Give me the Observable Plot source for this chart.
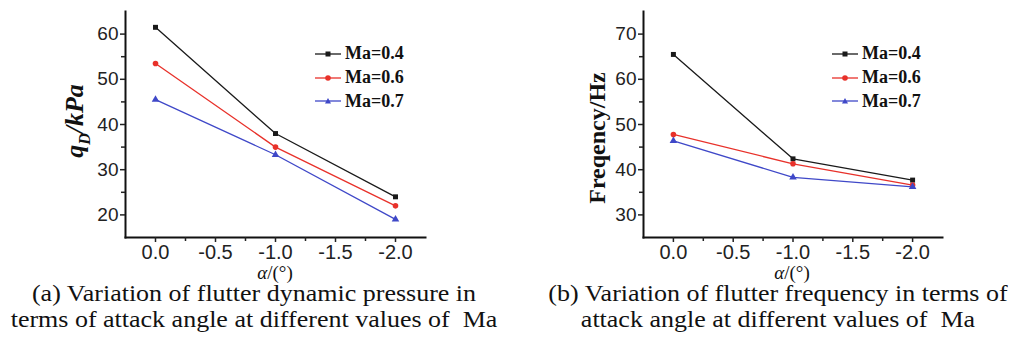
<!DOCTYPE html>
<html><head><meta charset="utf-8">
<script src="https://cdn.jsdelivr.net/npm/d3@7"></script>
<script src="https://cdn.jsdelivr.net/npm/@observablehq/plot@0.6"></script>
<style>
body{margin:0;background:#fff;}
#wrap{position:relative;width:1020px;height:349px;overflow:hidden;background:#fff;}
.panel{position:absolute;top:0;width:510px;height:270px;}
.ylab{position:absolute;font-family:"Liberation Serif","Times New Roman",serif;font-weight:bold;color:#111;transform:translate(-50%,-50%) rotate(-90deg);white-space:nowrap;}
.xlab{position:absolute;font-family:"Liberation Serif","Times New Roman",serif;font-size:19px;line-height:14px;color:#111;transform:translate(-50%,-50%);white-space:nowrap;}
.cap{position:absolute;font-family:"Liberation Serif","Times New Roman",serif;font-size:23px;line-height:26px;color:#111;text-align:center;transform:translateX(-50%) scaleX(1.13);white-space:nowrap;}
.legend{position:absolute;font-family:"Liberation Serif","Times New Roman",serif;font-weight:bold;font-size:18px;color:#111;}
.legend .row{display:flex;align-items:center;height:23.7px;}
.legend svg{margin-right:4px;}
</style>
</head><body>
<div id="wrap"></div>
<script>
const angles = [0, -1, -2];
const series = ["Ma=0.4", "Ma=0.6", "Ma=0.7"];
const colors = ["#1a1a1a", "#e8312a", "#3f48c8"];
const symbols = ["square", "circle", "triangle"];
const qD04 = [61.5, 38.0, 24.0];
const qD06 = [53.5, 35.0, 22.0];
const qD07 = [45.5, 33.3, 19.0];
const f04 = [65.5, 42.4, 37.7];
const f06 = [47.8, 41.3, 36.6];
const f07 = [46.4, 38.3, 36.2];
const xDomain = [0.25, -2.25];
const xTicks = [0, -0.5, -1, -1.5, -2];
const xMinor = [-0.25, -0.75, -1.25, -1.75];
const qDomain = [15, 65];
const qTicks = [20, 30, 40, 50, 60];
const qMinor = [25, 35, 45, 55];
const fDomain = [25, 75];
const fTicks = [30, 40, 50, 60, 70];
const fMinor = [35, 45, 55, 65];

function rows(vals) {
  const out = [];
  vals.forEach((arr, si) => arr.forEach((v, i) => out.push({x: angles[i], y: v, s: series[si]})));
  return out;
}

function makePlot(data, yDomain, yTicks, yMinor, marginLeft, marginRight) {
  return Plot.plot({
    width: 510, height: 270,
    marginLeft, marginRight, marginTop: 11, marginBottom: 33,
    style: {fontFamily: "'Liberation Sans', Arial, sans-serif", fontSize: "19px", color: "#222", background: "transparent"},
    x: {domain: xDomain},
    y: {domain: yDomain},
    color: {domain: series, range: colors},
    symbol: {domain: series, range: symbols},
    marks: [
      Plot.frame({anchor: "left", stroke: "#111", strokeWidth: 2}),
      Plot.frame({anchor: "bottom", stroke: "#111", strokeWidth: 2}),
      Plot.axisX({ticks: xTicks, tickSize: 5, tickPadding: 2, tickFormat: d => d.toFixed(1), label: null, fontSize: 20, strokeWidth: 1.5}),
      Plot.axisX({ticks: xMinor, tickSize: 4, text: null, label: null, strokeWidth: 1.5}),
      Plot.axisY({ticks: yTicks, tickSize: 5, tickPadding: 2, label: null, strokeWidth: 1.5}),
      Plot.axisY({ticks: yMinor, tickSize: 4, text: null, label: null, strokeWidth: 1.5}),
      Plot.line(data, {x: "x", y: "y", z: "s", stroke: "s", strokeWidth: 1.3}),
      Plot.dot(data, {x: "x", y: "y", symbol: "s", fill: "s", r: 2.8})
    ]
  });
}

function legend(left, top) {
  const d = document.createElement("div");
  d.className = "legend";
  d.style.left = left + "px";
  d.style.top = top + "px";
  series.forEach((s, i) => {
    const shape = i === 0 ? '<rect x="10.5" y="4.5" width="5" height="5" fill="' + colors[i] + '"/>'
      : i === 1 ? '<circle cx="13" cy="7" r="2.8" fill="' + colors[i] + '"/>'
      : '<path d="M13,4 L16,9.5 L10,9.5 Z" fill="' + colors[i] + '"/>';
    d.innerHTML += '<div class="row"><svg width="26" height="14"><line x1="0" x2="26" y1="7" y2="7" stroke="' + colors[i] + '" stroke-width="1.3"/>' + shape + '</svg><span>' + s + '</span></div>';
  });
  return d;
}

const wrap = document.getElementById("wrap");
const left = document.createElement("div");
left.className = "panel"; left.style.left = "0px";
left.appendChild(makePlot(rows([qD04, qD06, qD07]), qDomain, qTicks, qMinor, 125, 85));
wrap.appendChild(left);
const right = document.createElement("div");
right.className = "panel"; right.style.left = "510px";
right.appendChild(makePlot(rows([f04, f06, f07]), fDomain, fTicks, fMinor, 133, 78));
wrap.appendChild(right);

wrap.appendChild(legend(315, 42));
wrap.appendChild(legend(832, 42));

const yl1 = document.createElement("div");
yl1.className = "ylab"; yl1.style.left = "77px"; yl1.style.top = "121px"; yl1.style.fontSize = "26px"; yl1.style.fontStyle = "italic";
yl1.innerHTML = 'q<sub style="font-size:16px">D</sub>/kPa';
wrap.appendChild(yl1);
const yl2 = document.createElement("div");
yl2.className = "ylab"; yl2.style.left = "597px"; yl2.style.top = "138px"; yl2.style.fontSize = "24px";
yl2.textContent = "Freqency/Hz";
wrap.appendChild(yl2);

[275, 792].forEach(cx => {
  const xl = document.createElement("div");
  xl.className = "xlab"; xl.style.left = cx + "px"; xl.style.top = "273px";
  xl.innerHTML = '<i>α</i>/(°)';
  wrap.appendChild(xl);
});

const c1 = document.createElement("div");
c1.className = "cap"; c1.style.left = "254px"; c1.style.top = "281px";
c1.innerHTML = "(a) Variation of flutter dynamic pressure in<br>terms of attack angle at different values of&nbsp; Ma";
wrap.appendChild(c1);
const c2 = document.createElement("div");
c2.className = "cap"; c2.style.left = "778px"; c2.style.top = "281px";
c2.innerHTML = "(b) Variation of flutter frequency in terms of<br>attack angle at different values of&nbsp; Ma";
wrap.appendChild(c2);
</script>
</body></html>
